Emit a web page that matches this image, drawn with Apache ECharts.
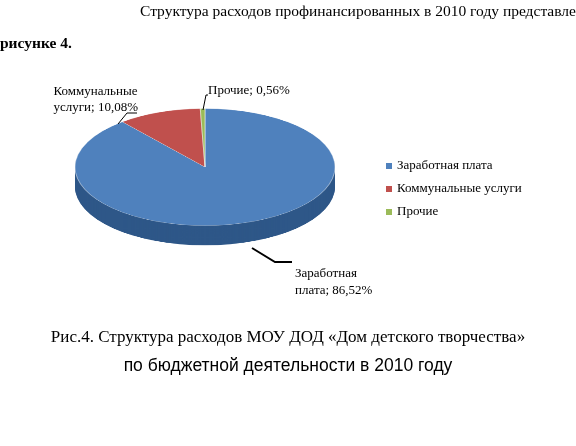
<!DOCTYPE html><html><head><meta charset="utf-8">
<script src="https://cdn.jsdelivr.net/npm/echarts@6/dist/echarts.min.js"></script>
<style>body{margin:0;background:#fff;width:576px;height:446px;position:relative;overflow:hidden}
#pie{position:absolute;left:70px;top:100px;width:270px;height:330px;transform:scaleY(0.45);transform-origin:top left}
#main{position:absolute;left:0;top:0;width:576px;height:446px}</style></head><body>
<div id="pie"></div><div id="main"></div>
<script>
const categories=['Заработная плата','Коммунальные услуги','Прочие'];
const values=[86.52,10.08,0.56];
const labels=['Заработная\nплата; 86,52%','Коммунальные\nуслуги; 10,08%','Прочие; 0,56%'];
const colors=['#4F81BD','#C0504D','#9BBB59'];
const dark=['#2E5788','#8C3431','#6F8A3C'];
const pie=echarts.init(document.getElementById('pie'));
const series=[];
const depth=44,steps=22;
for(let i=steps;i>=0;i--){
 const top=i===0;
 series.push({type:'pie',radius:130,center:[135,149+depth*i/steps],startAngle:90,silent:true,animation:false,
  label:{show:false},labelLine:{show:false},
  itemStyle:{borderWidth:top?0.5:0,borderColor:'#fff'},
  data:categories.map((c,k)=>({name:c,value:values[k],itemStyle:{color:top?colors[k]:dark[k]}}))});
}
pie.setOption({series});
const main=echarts.init(document.getElementById('main'));
const serif='"Liberation Serif", "Times New Roman", serif';
const g=[];
g.push({type:'text',left:140,top:4,style:{text:'Структура расходов профинансированных в 2010 году представлена на',font:'15.5px '+serif,fill:'#000'}});
g.push({type:'text',left:0,top:36,style:{text:'рисунке 4.',font:'bold 15.5px '+serif,fill:'#000'}});
g.push({type:'text',right:438,top:84,style:{text:labels[1],font:'13px '+serif,fill:'#000',align:'left',lineHeight:16}});
g.push({type:'text',left:208,top:84,style:{text:labels[2],font:'13px '+serif,fill:'#000'}});
g.push({type:'text',left:295,top:265,style:{text:labels[0],font:'13px '+serif,fill:'#000',lineHeight:17,align:'left'}});
g.push({type:'polyline',shape:{points:[[118,124],[127,113],[137,113]]},style:{stroke:'#000',lineWidth:1}});
g.push({type:'polyline',shape:{points:[[203,110],[206,95],[208,95]]},style:{stroke:'#000',lineWidth:1}});
g.push({type:'polyline',shape:{points:[[252,248],[275,262],[292,262]]},style:{stroke:'#000',lineWidth:2}});
categories.forEach((c,k)=>{
 g.push({type:'rect',shape:{x:386,y:163+k*23,width:6,height:6},style:{fill:colors[k]}});
 g.push({type:'text',left:397,top:159+k*23,style:{text:c,font:'13px '+serif,fill:'#000'}});
});
g.push({type:'text',left:'center',top:329,style:{text:'Рис.4. Структура расходов МОУ ДОД «Дом детского творчества»',font:'17px '+serif,fill:'#000'}});
g.push({type:'text',left:'center',top:357,style:{text:'по бюджетной деятельности в 2010 году',font:'17.5px "Liberation Sans", Arial, sans-serif',fill:'#000'}});
main.setOption({graphic:g});
</script></body></html>
